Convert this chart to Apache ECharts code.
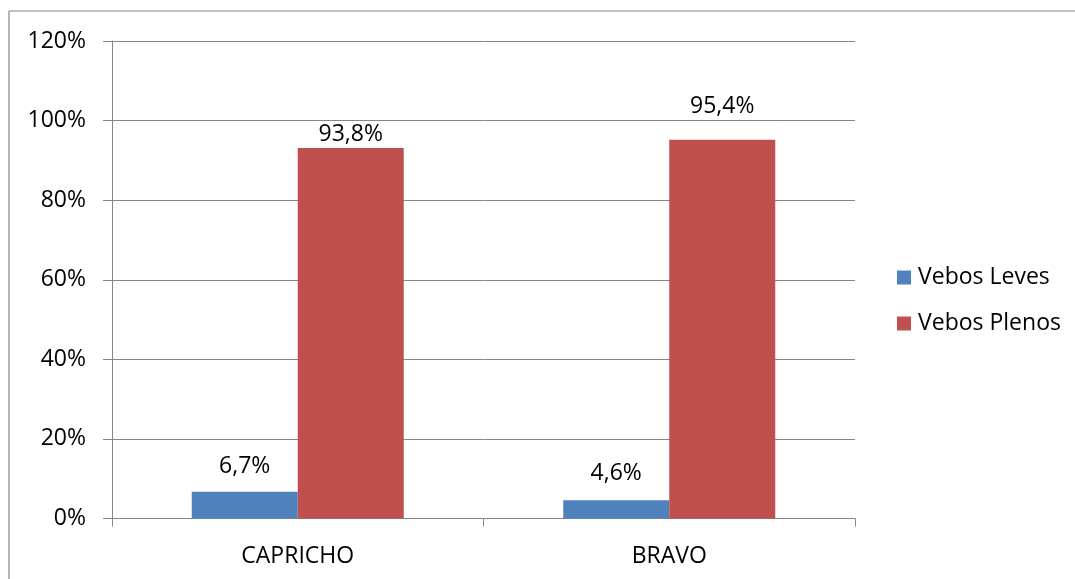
<!DOCTYPE html>
<html>
<head>
<meta charset="utf-8">
<script src="https://cdn.jsdelivr.net/npm/echarts@6/dist/echarts.min.js"></script>
<style>
html,body{margin:0;padding:0;background:#fff;}
#chart{width:1075px;height:579px;}
</style>
</head>
<body>
<div id="chart"></div>
<script>
const categories = ['CAPRICHO', 'BRAVO'];
const seriesNames = ['Vebos Leves', 'Vebos Plenos'];
const levesValues = [6.7, 4.6];
const plenosValues = [93.1, 95.2];
const levesLabels = ['6,7%', '4,6%'];
const plenosLabels = ['93,8%', '95,4%'];
const yTicks = [0, 20, 40, 60, 80, 100, 120];

// label offsets above the bar tops (style, not data)
const levesGaps = [14, 15];
const plenosGaps = [2, 22];

const FONT = 'Open Sans';
const FS = 23;
const GRAY = '#868686';
const chart = echarts.init(document.getElementById('chart'));

function build(values, labels, gaps) {
  return values.map((v, i) => ({
    value: v,
    label: {
      show: true, position: 'top', distance: gaps[i],
      color: '#000', fontFamily: FONT, fontSize: FS,
      formatter: () => labels[i]
    }
  }));
}

chart.setOption({
  animation: false,
  textStyle: { fontFamily: FONT },
  graphic: [
    { type: 'line', shape: { x1: 9, y1: 11, x2: 1075, y2: 11 }, style: { stroke: GRAY, lineWidth: 1.2 } },
    { type: 'line', shape: { x1: 9, y1: 11, x2: 9, y2: 579 }, style: { stroke: GRAY, lineWidth: 1.2 } }
  ],
  grid: { left: 112, right: 220, top: 41, bottom: 60.5 },
  legend: {
    orient: 'vertical', left: 892, top: 261,
    icon: 'rect', itemWidth: 14, itemHeight: 14, itemGap: 23,
    textStyle: { fontFamily: FONT, fontSize: FS, color: '#000', padding: [0, 0, 0, 2] },
    data: seriesNames
  },
  xAxis: {
    type: 'category', data: categories,
    axisLine: { lineStyle: { color: GRAY, width: 1 } },
    axisTick: { show: true, length: 8, lineStyle: { color: GRAY } },
    axisLabel: { color: '#000', fontFamily: FONT, fontSize: FS, margin: 26 }
  },
  yAxis: {
    type: 'value', min: 0, max: 120, interval: 20,
    axisLine: { show: true, lineStyle: { color: GRAY, width: 1 } },
    axisTick: { show: true, length: 9, lineStyle: { color: GRAY } },
    splitLine: { show: true, lineStyle: { color: GRAY, width: 1 } },
    axisLabel: { color: '#000', fontFamily: FONT, fontSize: FS, margin: 26,
      formatter: v => yTicks.includes(v) ? v + '%' : '' }
  },
  series: [
    { name: seriesNames[0], type: 'bar', data: build(levesValues, levesLabels, levesGaps),
      barWidth: 106, barGap: '0%', itemStyle: { color: '#4F81BD' } },
    { name: seriesNames[1], type: 'bar', data: build(plenosValues, plenosLabels, plenosGaps),
      barWidth: 106, barGap: '0%', itemStyle: { color: '#C0504D' } }
  ]
});
</script>
</body>
</html>
